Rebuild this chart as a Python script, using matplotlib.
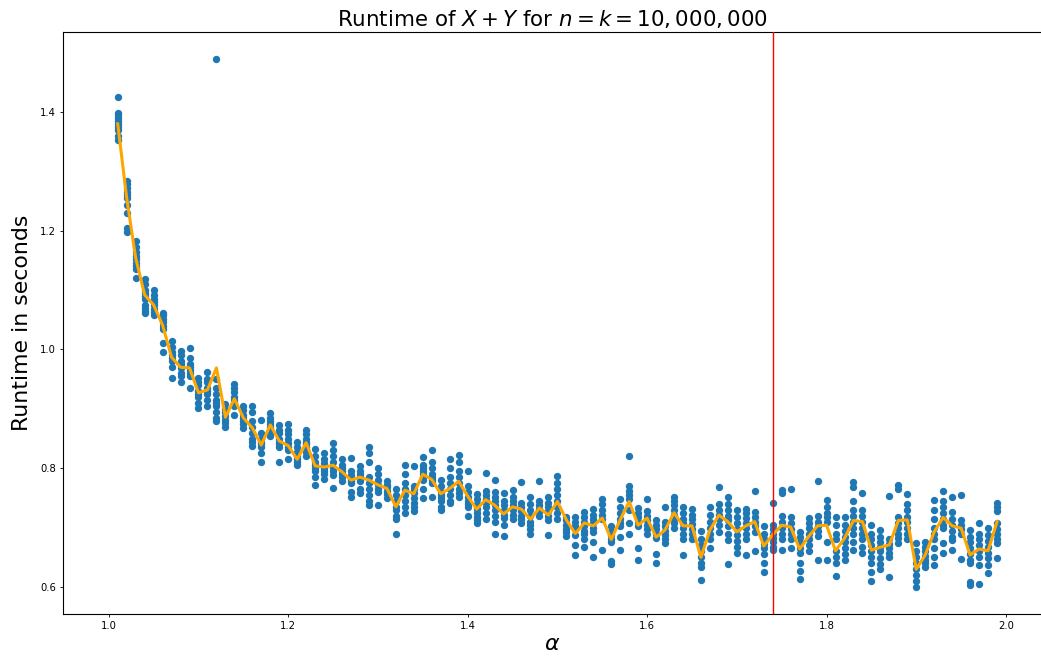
import numpy as np
import matplotlib
matplotlib.use('Agg')
import matplotlib.pyplot as plt

# alpha values (one cluster of runs per alpha)
alphas = [round(1.01 + 0.01 * i, 2) for i in range(99)]

# runtimes, one list per alpha
runtimes = [
    [1.426, 1.398, 1.395, 1.39, 1.385, 1.38, 1.375, 1.37, 1.36, 1.352],
    [1.283, 1.278, 1.272, 1.265, 1.26, 1.255, 1.243, 1.23, 1.205, 1.198],
    [1.182, 1.172, 1.165, 1.158, 1.152, 1.146, 1.14, 1.135, 1.12],
    [1.118, 1.11, 1.1, 1.095, 1.09, 1.085, 1.075, 1.07, 1.065, 1.062],
    [1.1, 1.092, 1.085, 1.08, 1.075, 1.068, 1.063, 1.058],
    [1.062, 1.058, 1.052, 1.046, 1.04, 1.035, 1.011, 0.996],
    [1.015, 1.005, 0.995, 0.99, 0.985, 0.98, 0.97, 0.952],
    [0.998, 0.99, 0.98, 0.975, 0.968, 0.96, 0.955, 0.945],
    [1.003, 0.985, 0.975, 0.97, 0.965, 0.96, 0.955, 0.935],
    [0.952, 0.945, 0.94, 0.93, 0.925, 0.92, 0.91, 0.902],
    [0.962, 0.95, 0.945, 0.935, 0.93, 0.925, 0.915, 0.905],
    [1.489, 0.95, 0.935, 0.925, 0.915, 0.91, 0.905, 0.895, 0.885, 0.88],
    [0.908, 0.9, 0.895, 0.888, 0.882, 0.876, 0.87],
    [0.942, 0.935, 0.928, 0.92, 0.915, 0.91, 0.905, 0.89],
    [0.905, 0.898, 0.89, 0.885, 0.88, 0.875, 0.868],
    [0.905, 0.895, 0.88, 0.87, 0.86, 0.85, 0.845, 0.838],
    [0.882, 0.86, 0.85, 0.845, 0.84, 0.835, 0.825, 0.81],
    [0.893, 0.885, 0.88, 0.875, 0.87, 0.865, 0.86, 0.855],
    [0.872, 0.865, 0.86, 0.85, 0.845, 0.84, 0.835, 0.81],
    [0.875, 0.865, 0.858, 0.85, 0.843, 0.835, 0.83, 0.815],
    [0.845, 0.835, 0.828, 0.82, 0.815, 0.81, 0.805],
    [0.865, 0.858, 0.85, 0.845, 0.84, 0.835, 0.828, 0.82],
    [0.832, 0.82, 0.81, 0.805, 0.8, 0.795, 0.785, 0.772],
    [0.825, 0.815, 0.808, 0.8, 0.795, 0.79, 0.782],
    [0.842, 0.83, 0.82, 0.81, 0.8, 0.795, 0.788, 0.766],
    [0.815, 0.805, 0.8, 0.795, 0.79, 0.785, 0.778],
    [0.817, 0.795, 0.788, 0.782, 0.778, 0.775, 0.76, 0.752],
    [0.803, 0.795, 0.79, 0.786, 0.782, 0.778, 0.765, 0.759],
    [0.836, 0.825, 0.81, 0.785, 0.775, 0.765, 0.755, 0.745, 0.738],
    [0.8, 0.79, 0.78, 0.772, 0.765, 0.76, 0.738],
    [0.778, 0.772, 0.768, 0.762, 0.756, 0.75],
    [0.765, 0.755, 0.745, 0.735, 0.73, 0.72, 0.715, 0.69],
    [0.805, 0.79, 0.775, 0.765, 0.755, 0.745, 0.735, 0.725],
    [0.803, 0.77, 0.765, 0.758, 0.75, 0.742, 0.735, 0.728],
    [0.819, 0.805, 0.8, 0.795, 0.79, 0.785, 0.78, 0.765, 0.75],
    [0.831, 0.81, 0.8, 0.79, 0.785, 0.78, 0.775, 0.752],
    [0.78, 0.77, 0.76, 0.755, 0.75, 0.745, 0.735, 0.73],
    [0.815, 0.8, 0.785, 0.775, 0.765, 0.755, 0.745, 0.742],
    [0.822, 0.81, 0.795, 0.785, 0.775, 0.765, 0.758, 0.752],
    [0.796, 0.77, 0.76, 0.752, 0.745, 0.74, 0.735, 0.72],
    [0.757, 0.748, 0.74, 0.732, 0.725, 0.718, 0.712, 0.707],
    [0.792, 0.762, 0.755, 0.748, 0.742, 0.735, 0.725, 0.715],
    [0.781, 0.76, 0.752, 0.745, 0.738, 0.73, 0.72, 0.71, 0.69],
    [0.758, 0.745, 0.738, 0.73, 0.722, 0.716, 0.705, 0.686],
    [0.763, 0.752, 0.745, 0.738, 0.73, 0.722, 0.715],
    [0.776, 0.742, 0.735, 0.728, 0.72, 0.714, 0.707],
    [0.752, 0.74, 0.73, 0.72, 0.71, 0.705, 0.697, 0.69],
    [0.779, 0.744, 0.738, 0.732, 0.726, 0.72],
    [0.752, 0.742, 0.735, 0.728, 0.72, 0.713, 0.688],
    [0.787, 0.775, 0.765, 0.755, 0.745, 0.735, 0.725, 0.715],
    [0.718, 0.712, 0.705, 0.698, 0.692, 0.686],
    [0.718, 0.71, 0.703, 0.697, 0.688, 0.67, 0.654],
    [0.727, 0.718, 0.71, 0.702, 0.695, 0.69, 0.68, 0.667],
    [0.731, 0.722, 0.715, 0.707, 0.7, 0.693, 0.675, 0.65],
    [0.749, 0.74, 0.73, 0.722, 0.715, 0.662],
    [0.702, 0.695, 0.688, 0.68, 0.676, 0.643, 0.638],
    [0.749, 0.735, 0.725, 0.715, 0.708, 0.702, 0.685, 0.662],
    [0.821, 0.77, 0.762, 0.755, 0.748, 0.73, 0.707, 0.689],
    [0.733, 0.725, 0.718, 0.71, 0.703, 0.665, 0.645],
    [0.748, 0.728, 0.72, 0.712, 0.705, 0.697, 0.69],
    [0.713, 0.705, 0.698, 0.69, 0.682, 0.656, 0.64],
    [0.735, 0.71, 0.703, 0.695, 0.688, 0.68, 0.674],
    [0.751, 0.745, 0.738, 0.73, 0.722, 0.715, 0.707, 0.699],
    [0.735, 0.725, 0.715, 0.708, 0.7, 0.69, 0.68, 0.654],
    [0.732, 0.722, 0.714, 0.706, 0.698, 0.69, 0.68],
    [0.695, 0.68, 0.67, 0.66, 0.65, 0.64, 0.634, 0.611],
    [0.735, 0.722, 0.71, 0.7, 0.69, 0.68, 0.665],
    [0.768, 0.74, 0.73, 0.722, 0.715, 0.705, 0.693],
    [0.752, 0.74, 0.73, 0.72, 0.712, 0.703, 0.69, 0.679, 0.639],
    [0.73, 0.718, 0.708, 0.698, 0.688, 0.678, 0.667, 0.657],
    [0.732, 0.725, 0.716, 0.708, 0.7, 0.69, 0.68, 0.654],
    [0.761, 0.727, 0.718, 0.71, 0.702, 0.693, 0.66],
    [0.702, 0.69, 0.68, 0.672, 0.665, 0.655, 0.64, 0.626],
    [0.742, 0.705, 0.698, 0.69, 0.682, 0.675, 0.668, 0.662],
    [0.763, 0.758, 0.72, 0.71, 0.7, 0.69, 0.68, 0.662],
    [0.765, 0.718, 0.708, 0.698, 0.69, 0.68, 0.665],
    [0.693, 0.685, 0.675, 0.665, 0.657, 0.64, 0.627, 0.613],
    [0.716, 0.708, 0.7, 0.69, 0.68, 0.67, 0.66],
    [0.779, 0.72, 0.71, 0.702, 0.694, 0.686, 0.645],
    [0.747, 0.735, 0.725, 0.718, 0.71, 0.676, 0.645],
    [0.718, 0.705, 0.69, 0.68, 0.66, 0.65, 0.64, 0.618],
    [0.718, 0.705, 0.695, 0.685, 0.675, 0.665, 0.655, 0.645],
    [0.777, 0.768, 0.745, 0.73, 0.72, 0.71, 0.7, 0.69, 0.675, 0.662],
    [0.759, 0.73, 0.72, 0.71, 0.7, 0.69, 0.68, 0.668, 0.657],
    [0.704, 0.69, 0.68, 0.67, 0.66, 0.65, 0.64, 0.625, 0.61],
    [0.696, 0.685, 0.675, 0.668, 0.66, 0.648, 0.638, 0.63],
    [0.753, 0.68, 0.673, 0.666, 0.658, 0.651, 0.617],
    [0.772, 0.765, 0.718, 0.708, 0.7, 0.69, 0.682, 0.674],
    [0.757, 0.74, 0.73, 0.718, 0.71, 0.7, 0.69, 0.68],
    [0.674, 0.66, 0.65, 0.64, 0.63, 0.62, 0.61, 0.6],
    [0.676, 0.668, 0.66, 0.652, 0.645, 0.64, 0.634],
    [0.747, 0.73, 0.715, 0.7, 0.69, 0.68, 0.665, 0.65, 0.637],
    [0.762, 0.745, 0.735, 0.725, 0.715, 0.705, 0.699, 0.674, 0.657],
    [0.752, 0.727, 0.715, 0.705, 0.695, 0.685, 0.679, 0.662],
    [0.755, 0.713, 0.705, 0.698, 0.69, 0.647],
    [0.696, 0.685, 0.675, 0.665, 0.655, 0.645, 0.64, 0.609, 0.603],
    [0.708, 0.69, 0.68, 0.67, 0.66, 0.65, 0.637, 0.605],
    [0.699, 0.688, 0.678, 0.668, 0.658, 0.648, 0.637, 0.623],
    [0.742, 0.735, 0.728, 0.707, 0.698, 0.69, 0.68, 0.674, 0.648],
]

# mean runtime per alpha (orange line)
mean_runtime = [
    1.380, 1.255, 1.154, 1.092, 1.075, 1.041, 0.987, 0.970, 0.969, 0.927,
    0.932, 0.969, 0.886, 0.917, 0.885, 0.868, 0.839, 0.873, 0.846, 0.838,
    0.815, 0.843, 0.804, 0.802, 0.805, 0.794, 0.780, 0.785, 0.780, 0.772,
    0.766, 0.735, 0.763, 0.757, 0.790, 0.781, 0.757, 0.766, 0.778, 0.753,
    0.731, 0.747, 0.738, 0.723, 0.735, 0.731, 0.714, 0.733, 0.721, 0.744,
    0.713, 0.690, 0.708, 0.703, 0.716, 0.680, 0.713, 0.744, 0.704, 0.716,
    0.684, 0.696, 0.725, 0.703, 0.703, 0.650, 0.696, 0.721, 0.710, 0.693,
    0.703, 0.710, 0.669, 0.688, 0.704, 0.701, 0.664, 0.685, 0.703, 0.704,
    0.661, 0.682, 0.712, 0.710, 0.662, 0.667, 0.671, 0.712, 0.713, 0.630,
    0.654, 0.693, 0.717, 0.703, 0.699, 0.654, 0.664, 0.661, 0.710,
]

threshold_alpha = 1.74

x_pts = []
y_pts = []
for a, vals in zip(alphas, runtimes):
    x_pts += [a] * len(vals)
    y_pts += vals

fig = plt.figure(figsize=(10.41, 6.59), dpi=100)
ax = fig.add_axes([63 / 1041, 45 / 659, 978 / 1041, 582 / 659])

ax.scatter(x_pts, y_pts, s=28, linewidths=0, color='#1f77b4', zorder=2)
ax.plot(alphas, mean_runtime, color='orange', linewidth=2.2, zorder=3)
ax.axvline(threshold_alpha, color='red', linewidth=1.0, zorder=4)

ax.set_xlim(0.949, 2.039)
ax.set_ylim(0.5545, 1.5347)
ax.set_xticks([1.0, 1.2, 1.4, 1.6, 1.8, 2.0])
ax.set_yticks([0.6, 0.8, 1.0, 1.2, 1.4])
ax.tick_params(labelsize=7.2, length=2.5, width=0.6, pad=2.5)
for side in ['left', 'bottom', 'top']:
    ax.spines[side].set_linewidth(0.8)
ax.spines['right'].set_visible(False)

ax.set_title(r'Runtime of $X+Y$ for $n=k=10,000,000$', fontsize=15.4, pad=4)
ax.set_xlabel(r'$\alpha$', fontsize=16, labelpad=2)
ax.set_ylabel('Runtime in seconds', fontsize=15.8, labelpad=6)

fig.savefig('out.png', dpi=100)
